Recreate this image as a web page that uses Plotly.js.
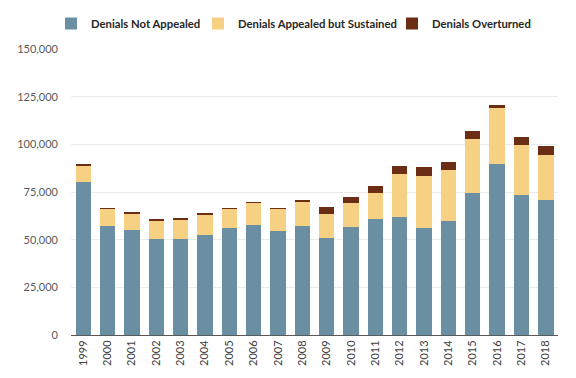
<!DOCTYPE html>
<html>
<head>
<meta charset="utf-8">
<script src="https://cdn.plot.ly/plotly-3.0.1.min.js"></script>
<style>html,body{margin:0;padding:0;background:#fff;}#chart{width:576px;height:378px;}</style>
</head>
<body>
<div id="chart"></div>
<script>
var years = ["1999","2000","2001","2002","2003","2004","2005","2006","2007","2008","2009","2010","2011","2012","2013","2014","2015","2016","2017","2018"];
var notAppealed = [80300,57300,55100,50400,50400,52300,56300,57700,54600,57300,50900,56700,61000,62100,56300,59800,74500,89700,73400,70800];
var appealedSustained = [8300,8900,8500,9600,9900,10800,10000,11500,11300,12600,12700,12400,13600,22500,27300,26700,28500,29200,26400,23800];
var overturned = [1300,500,900,900,900,700,500,500,800,700,3500,3300,3500,4000,4600,4400,3900,1600,4200,4700];
var names = ["Denials Not Appealed","Denials Appealed but Sustained","Denials Overturned"];
var colors = ["#6A8FA3","#F6D184","#6B2D14"];
var legendIds = ["legend","legend2","legend3"];

var series = [notAppealed, appealedSustained, overturned];
var traces = series.map(function(vals, i){
  return {type:"bar", x:years, y:vals, name:names[i], legend:legendIds[i],
          marker:{color:colors[i], line:{width:0}}, hoverinfo:"x+y+name"};
});

function leg(xpx){
  return {orientation:"h", xref:"container", yref:"container", x:xpx/576, xanchor:"left", y:1-9/378, yanchor:"top",
          bgcolor:"rgba(0,0,0,0)", borderwidth:0,
          font:{size:11.3, color:"#262626", family:"Lato, sans-serif", weight:"bold"}};
}

var layout = {
  width:576, height:378,
  margin:{l:71, r:18, t:49, b:43},
  barmode:"stack",
  bargap:0.37,
  paper_bgcolor:"#fff", plot_bgcolor:"#fff",
  font:{family:"Lato, 'Open Sans', sans-serif", size:11, color:"#595959"},
  showlegend:true,
  legend:leg(51),
  legend2:leg(198),
  legend3:leg(392),
  xaxis:{type:"category", tickangle:-90, showgrid:false, showline:true, linecolor:"#595959", linewidth:1,
         ticks:"", tickfont:{size:11, color:"#404040"}, fixedrange:true},
  yaxis:{range:[0,150000], dtick:25000, tickformat:",d", showgrid:true, gridcolor:"#EBEBEB", gridwidth:1,
         zeroline:false, showline:false, ticks:"", ticklabelstandoff:12, tickfont:{size:11, color:"#595959"}, fixedrange:true}
};
Plotly.newPlot("chart", traces, layout, {displayModeBar:false, staticPlot:true});
</script>
</body>
</html>
